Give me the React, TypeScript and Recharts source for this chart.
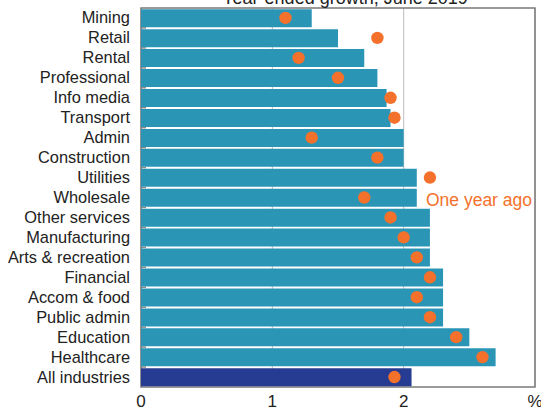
import React from "react";
import {
  ComposedChart,
  Bar,
  Line,
  XAxis,
  YAxis,
  CartesianGrid,
  Cell,
  Customized,
} from "recharts";

const categories = [
  "Mining",
  "Retail",
  "Rental",
  "Professional",
  "Info media",
  "Transport",
  "Admin",
  "Construction",
  "Utilities",
  "Wholesale",
  "Other services",
  "Manufacturing",
  "Arts & recreation",
  "Financial",
  "Accom & food",
  "Public admin",
  "Education",
  "Healthcare",
  "All industries",
];

const currentGrowth = [
  1.3, 1.5, 1.7, 1.8, 1.87, 1.9, 2.0, 2.0, 2.1, 2.1, 2.2, 2.2, 2.2, 2.3, 2.3, 2.3,
  2.5, 2.7, 2.06,
];

const oneYearAgo = [
  1.1, 1.8, 1.2, 1.5, 1.9, 1.93, 1.3, 1.8, 2.2, 1.7, 1.9, 2.0, 2.1, 2.2, 2.1, 2.2,
  2.4, 2.6, 1.93,
];

const xTicks = [0, 1, 2, 3];
const xTickLabels = ["0", "1", "2", "%"];

const title = "Year-ended growth, June 2019";
const legendLabel = "One year ago";

const data = categories.map((name, i) => ({
  name,
  value: currentGrowth[i],
  ago: oneYearAgo[i],
}));

const BAR_COLOR = "#2B95B6";
const TOTAL_COLOR = "#263B92";
const DOT_COLOR = "#F3712B";
const FONT = "'Liberation Sans', Arial, sans-serif";

const YTick = (props: any) => {
  const { x, y, payload } = props;
  return (
    <g>
      <text
        x={x - 3}
        y={y}
        dy={5.5}
        textAnchor="end"
        fontSize={16.4}
        fontFamily={FONT}
        fill="#222"
      >
        {payload.value}
      </text>
    </g>
  );
};

const XTick = (props: any) => {
  const { x, y, payload } = props;
  return (
    <text
      x={x}
      y={406.5}
      textAnchor="middle"
      fontSize={17}
      fontFamily={FONT}
      fill="#222"
    >
      {xTickLabels[xTicks.indexOf(payload.value)]}
    </text>
  );
};

const Overlay = (props: any) => {
  const offset = props.offset || {};
  const left = offset.left ?? 141;
  const top = offset.top ?? 8;
  const width = offset.width ?? 394;
  const height = offset.height ?? 379;
  const n = categories.length;
  const band = height / n;
  const ticks = [];
  for (let i = 1; i < n; i++) {
    const yy = top + band * i;
    ticks.push(
      <line
        key={i}
        x1={left}
        x2={left + 5}
        y1={yy}
        y2={yy}
        stroke="#8a8a8a"
        strokeWidth={1.5}
      />
    );
  }
  return (
    <g>
      {ticks}
      <rect
        x={left}
        y={top}
        width={width}
        height={height}
        fill="none"
        stroke="#7a7a7a"
        strokeWidth={1.5}
      />
      <text
        x={345}
        y={3.5}
        textAnchor="middle"
        fontSize={18}
        fontFamily={FONT}
        fill="#222"
      >
        {title}
      </text>
      <text
        x={479}
        y={205.5}
        textAnchor="middle"
        fontSize={17.5}
        fontFamily={FONT}
        fill={DOT_COLOR}
      >
        {legendLabel}
      </text>
    </g>
  );
};

export default function App() {
  return (
    <div style={{ position: "absolute", left: 0, top: 0 }}>
      <ComposedChart
        width={541}
        height={409}
        data={data}
        layout="vertical"
        margin={{ top: 8, right: 6, bottom: 0, left: 0 }}
        barCategoryGap={1.2}
      >
        <CartesianGrid
          horizontal={false}
          vertical={true}
          stroke="#bdbdbd"
          strokeWidth={1}
        />
        <XAxis
          type="number"
          domain={[0, 3]}
          ticks={xTicks}
          axisLine={false}
          tickLine={false}
          interval={0}
          height={22}
          tick={<XTick />}
          allowDataOverflow
        />
        <YAxis
          type="category"
          dataKey="name"
          width={141}
          axisLine={false}
          tickLine={false}
          interval={0}
          tick={<YTick />}
        />
        <Bar dataKey="value" isAnimationActive={false}>
          {data.map((d, i) => (
            <Cell
              key={d.name}
              fill={i === data.length - 1 ? TOTAL_COLOR : BAR_COLOR}
            />
          ))}
        </Bar>
        <Line
          dataKey="ago"
          stroke="none"
          isAnimationActive={false}
          dot={{ r: 6.2, fill: DOT_COLOR, stroke: "none" }}
          activeDot={false}
        />
        <Customized component={Overlay} />
      </ComposedChart>
    </div>
  );
}
